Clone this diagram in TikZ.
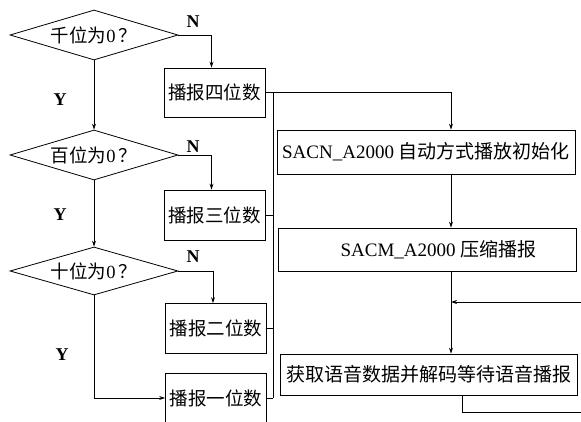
\documentclass[tikz,border=0pt]{standalone}
\usepackage{fontspec}
\setmainfont{Liberation Serif}
\newfontfamily\cjk{Noto Sans CJK SC}
\usetikzlibrary{shapes.geometric,arrows.meta}
\begin{document}
\begin{tikzpicture}[x=1pt,y=-1pt,
  every node/.style={font=\fontsize{18.5}{20}\selectfont},
  dia/.style={draw, diamond, inner sep=0pt, minimum width=168pt, minimum height=50pt, aspect=3},
  pbox/.style={draw, rectangle, inner sep=0pt, minimum width=101pt, minimum height=50pt},
  wbox/.style={draw, rectangle, inner sep=0pt, minimum width=298pt, minimum height=43pt, font=\fontsize{19}{21}\selectfont},
  lab/.style={font=\fontsize{18}{20}\selectfont\bfseries},
  arr/.style={-{Stealth[length=6pt,width=4pt]}},
  line width=0.8pt]
\useasboundingbox (0,0) rectangle (581,422);
\clip (0,0) rectangle (581,422);
% decisions
\node[dia] (d1) at (94,35) {{\cjk 千位为}0\,{\cjk ？}};
\node[dia] (d2) at (94,155) {{\cjk 百位为}0\,{\cjk ？}};
\node[dia, minimum height=48pt] (d3) at (94,271) {{\cjk 十位为}0\,{\cjk ？}};
% left boxes
\node[pbox, minimum height=49pt] (b4) at (214.5,92.5) {\cjk 播报四位数};
\node[pbox] (b3) at (214.5,215) {\cjk 播报三位数};
\node[pbox] (b2) at (216,328.5) {\cjk 播报二位数};
\node[pbox] (b1) at (216,398) {\cjk 播报一位数};
% labels
\node[lab] (n1) at (193,22) {N};
\node[lab] (n2) at (193,147) {N};
\node[lab] (n3) at (193,257) {N};
\node[lab] (y1) at (60,100) {Y};
\node[lab] (y2) at (60,215) {Y};
\node[lab] (y3) at (62,355) {Y};
% right boxes
\node[wbox, minimum height=44pt] (sacn) at (426,152) {SACN\_A2000 {\cjk 自动方式播放初始化}};
\node[wbox] (sacm) at (427.5,249.5) {\hspace*{22pt}SACM\_A2000 {\cjk 压缩播报}};
\node[wbox, minimum width=297pt, minimum height=41pt] (hq) at (428.5,374.5) {\cjk 获取语音数据并解码等待语音播报};
% coordinates
\coordinate (busTop) at (273,92.5);
\coordinate (busBot) at (273,398);
\coordinate (mid) at (451,0);
\coordinate (lx) at (462,0);
\coordinate (fbR) at (582,302);
\coordinate (loopR) at (582,412);
% connectors left
\draw[arr] (d1.east) -| ([xshift=-3pt]b4.north);
\draw[arr] (d2.east) -| ([xshift=-3pt]b3.north);
\draw[arr] (d3.east) -| ([xshift=-3pt]b2.north);
\draw[arr] (d1.south) -- (d2.north);
\draw[arr] (d2.south) -- (d3.north);
\draw[arr] (d3.south) |- (b1.west);
% bus
\draw (busTop) -- (busBot);
\draw (b3.east) -- (b3.east -| busTop);
\draw (b2.east) -- (b2.east -| busTop);
\draw (b1.east) -- (busBot);
\draw[arr] (b4.east) -| (sacn.north -| mid);
\draw[arr] (sacn.south -| mid) -- (sacm.north -| mid);
\draw[arr] (sacm.south -| mid) -- (hq.north -| mid);
\draw[arr] (fbR) -- (fbR -| mid);
\draw (hq.south -| lx) |- (loopR);
\end{tikzpicture}
\end{document}
